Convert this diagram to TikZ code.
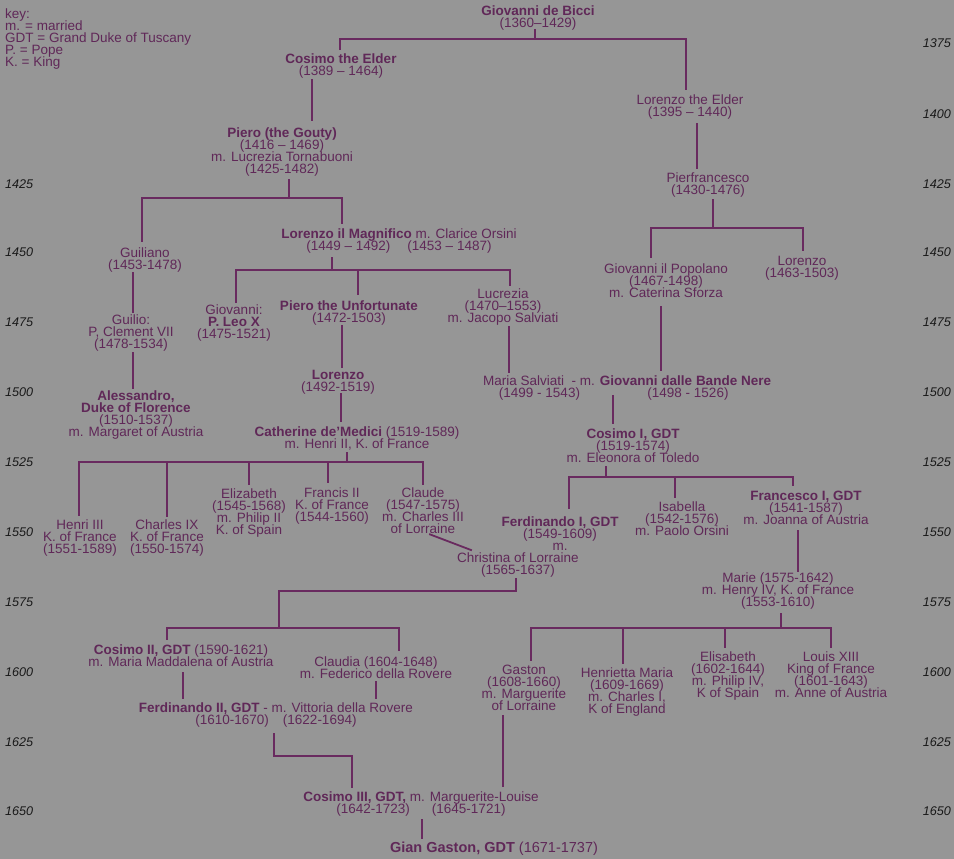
\documentclass[tikz,border=0pt]{standalone}
\usepackage{fontspec}
\setmainfont{Liberation Sans}
\usetikzlibrary{calc}
\definecolor{bgc}{RGB}{150,150,150}
\definecolor{txt}{RGB}{96,40,88}
\definecolor{lnc}{RGB}{105,42,95}
\lineskiplimit=-16000pt
\newcommand\ptx[1]{\rule{0pt}{10pt}#1\rule[-3pt]{0pt}{3pt}}
\newcommand\cdrop[3]{\draw[conn] (#1) -- ($(#1 |- #2.north)+(0,#3)$);}
\newcommand\cstem[3]{\draw[conn] ($(#2.south -| #1)+(0,#3)$) -- (#1);}
\newcommand\clink[5]{\draw[conn] ($(#2.south -| #1)+(0,#3)$) -- ($(#1 |- #4.north)+(0,#5)$);}
\begin{document}
\begin{tikzpicture}[x=1pt,y=-1pt,
  person/.style={text=txt, align=center, inner sep=0pt, anchor=north,
    font=\fontsize{13.5}{12}\selectfont},
  yr/.style={text=black!90, inner sep=0pt, font=\fontsize{12.6}{12}\selectfont\itshape},
  conn/.style={draw=lnc, line width=1.8pt, line cap=rect}]
\fill[bgc] (0,0) rectangle (954,859);
\useasboundingbox (0,0) rectangle (954,859);

% key
\node[person, align=left, anchor=north west] (key) at (5,8) {\ptx{key:\\m. = married\\GDT = Grand Duke of Tuscany\\P. = Pope\\K. = King}};

% years
\foreach \yv/\yy in {1425/184,1450/252,1475/322,1500/392,1525/462,1550/532,1575/602,1600/672,1625/742,1650/811}
  \node[yr, anchor=west] (yl\yv) at (5,\yy) {\yv};
\foreach \yv/\yy in {1375/43,1400/114,1425/184,1450/252,1475/322,1500/392,1525/462,1550/532,1575/602,1600/672,1625/742,1650/811}
  \node[yr, anchor=east] (yr\yv) at (951,\yy) {\yv};

% people
\node[person] (bicci) at (538,5) {\ptx{\textbf{Giovanni de Bicci}\\(1360–1429)}};
\node[person] (cosimoE) at (341,53) {\ptx{\textbf{Cosimo the Elder}\\(1389 – 1464)}};
\node[person] (lorenzoE) at (690,94) {\ptx{Lorenzo the Elder\\(1395 – 1440)}};
\node[person] (piero) at (282,127) {\ptx{\textbf{Piero (the Gouty)}\\(1416 – 1469)\\m. Lucrezia Tornabuoni\\(1425-1482)}};
\node[person] (pierf) at (708,172) {\ptx{Pierfrancesco\\(1430-1476)}};
\node[person] (guiliano) at (145,247) {\ptx{Guiliano\\(1453-1478)}};
\node[person] (lorenzoM) at (399,228) {\ptx{\textbf{Lorenzo il Magnifico} m. Clarice Orsini\\(1449 – 1492)\hspace{17pt}(1453 – 1487)}};
\node[person] (popolano) at (666,263) {\ptx{Giovanni il Popolano\\(1467-1498)\\m. Caterina Sforza}};
\node[person] (lorenzo2) at (802,255) {\ptx{Lorenzo\\(1463-1503)}};
\node[person] (guilio) at (131,314) {\ptx{Guilio:\\P, Clement VII\\(1478-1534)}};
\node[person] (leo) at (234,304) {\ptx{Giovanni:\\\textbf{P. Leo X}\\(1475-1521)}};
\node[person] (pieroU) at (349,300) {\ptx{\textbf{Piero the Unfortunate}\\(1472-1503)}};
\node[person] (lucrezia) at (503,288) {\ptx{Lucrezia\\(1470–1553)\\m. Jacopo Salviati}};
\node[person] (lorenzoU) at (338,369) {\ptx{\textbf{Lorenzo}\\(1492-1519)}};
\node[person, anchor=north west] (maria) at (483,375) {\ptx{Maria Salviati\ \ - m. \textbf{Giovanni dalle Bande Nere}}};
\node[person] (mariaD) at (539.5,387) {\ptx{(1499 - 1543)}};
\node[person] (giovD) at (688,387) {\ptx{(1498 - 1526)}};
\node[person] (alessandro) at (136,390) {\ptx{\textbf{Alessandro,}\\\textbf{Duke of Florence}\\(1510-1537)\\m. Margaret of Austria}};
\node[person] (catherine) at (357,426) {\ptx{\textbf{Catherine de’Medici} (1519-1589)\\m. Henri II, K. of France}};
\node[person] (cosimo1) at (633,428) {\ptx{\textbf{Cosimo I, GDT}\\(1519-1574)\\m. Eleonora of Toledo}};
\node[person] (henri3) at (80,519) {\ptx{Henri III\\K. of France\\(1551-1589)}};
\node[person] (charles9) at (167,519) {\ptx{Charles IX\\K. of France\\(1550-1574)}};
\node[person] (elizabeth) at (249,488) {\ptx{Elizabeth\\(1545-1568)\\m. Philip II\\K. of Spain}};
\node[person] (francis2) at (332,487) {\ptx{Francis II\\K. of France\\(1544-1560)}};
\node[person] (claude) at (423,487) {\ptx{Claude\\(1547-1575)\\m. Charles III\\of Lorraine}};
\node[person] (ferd1) at (560,516) {\ptx{\textbf{Ferdinando I, GDT}\\(1549-1609)\\m.}};
\node[person] (christina) at (518,552) {\ptx{Christina of Lorraine\\(1565-1637)}};
\node[person] (isabella) at (682,501) {\ptx{Isabella\\(1542-1576)\\m. Paolo Orsini}};
\node[person] (francesco) at (806,490) {\ptx{\textbf{Francesco I, GDT}\\(1541-1587)\\m. Joanna of Austria}};
\node[person] (marie) at (778,572) {\ptx{Marie (1575-1642)\\m. Henry IV, K. of France\\(1553-1610)}};
\node[person] (cosimo2) at (181,644) {\ptx{\textbf{Cosimo II, GDT} (1590-1621)\\m. Maria Maddalena of Austria}};
\node[person] (claudia) at (376,656) {\ptx{Claudia (1604-1648)\\m. Federico della Rovere}};
\node[person] (gaston) at (524,664) {\ptx{Gaston\\(1608-1660)\\m. Marguerite\\of Lorraine}};
\node[person] (henrietta) at (627,667) {\ptx{Henrietta Maria\\(1609-1669)\\m. Charles I,\\K of England}};
\node[person] (elisabeth) at (728,651) {\ptx{Elisabeth\\(1602-1644)\\m. Philip IV,\\K of Spain}};
\node[person] (louis) at (831,651) {\ptx{Louis XIII\\King of France\\(1601-1643)\\m. Anne of Austria}};
\node[person] (ferd2) at (276,702) {\ptx{\textbf{Ferdinando II, GDT} - m. Vittoria della Rovere\\(1610-1670)\hspace{14pt}(1622-1694)}};
\node[person] (cosimo3) at (421,791) {\ptx{\textbf{Cosimo III, GDT,} m. Marguerite-Louise\\(1642-1723)\hspace{22pt}(1645-1721)}};
\node[person, font=\fontsize{14.5}{13}\selectfont] (gian) at (494,841.5) {\ptx{\textbf{Gian Gaston, GDT} (1671-1737)}};

% junction coordinates
\coordinate (jb) at (535,39);  \coordinate (jbL) at (340,39); \coordinate (jbR) at (686,39);
\coordinate (jp) at (289,198); \coordinate (jpL) at (142,198); \coordinate (jpR) at (342,198);
\coordinate (jf) at (713,228); \coordinate (jfL) at (651,228); \coordinate (jfR) at (803,228);
\coordinate (jm) at (332,270); \coordinate (jmL) at (236,270); \coordinate (jmC) at (358,270); \coordinate (jmR) at (510,270);
\coordinate (jc) at (347,462); \coordinate (jc1) at (79,462); \coordinate (jc2) at (167,462);
\coordinate (jc3) at (249,462); \coordinate (jc4) at (328,462); \coordinate (jc5) at (423,462);
\coordinate (jo) at (606,477); \coordinate (joL) at (569,477); \coordinate (joC) at (675,477); \coordinate (joR) at (793,477);
\coordinate (jx) at (516,591); \coordinate (jxL) at (279,591);
\coordinate (jy) at (279,628); \coordinate (jyL) at (167,628); \coordinate (jyR) at (399,628);
\coordinate (jr) at (781,628); \coordinate (jr1) at (531,628); \coordinate (jr2) at (623,628);
\coordinate (jr3) at (725,628); \coordinate (jr4) at (831,628);
\coordinate (jd) at (274,756); \coordinate (jdR) at (352,756);
\coordinate (v1) at (312,0); \coordinate (v2) at (697,0); \coordinate (v3) at (133,0);
\coordinate (v4) at (342,0); \coordinate (v5) at (341,0); \coordinate (v6) at (509,0);
\coordinate (v7) at (661,0); \coordinate (v8) at (613,0); \coordinate (v9) at (798,0);
\coordinate (v10) at (183,0); \coordinate (v11) at (376,0); \coordinate (v12) at (503,0);
\coordinate (v13) at (422,0);

% Giovanni de Bicci
\cstem{jb}{bicci}{0}
\draw[conn] (jbL) -- (jbR);
\cdrop{jbL}{cosimoE}{-4}
\cdrop{jbR}{lorenzoE}{-5}
\clink{v1}{cosimoE}{2}{piero}{-7}
\clink{v2}{lorenzoE}{4}{pierf}{-4}
% Piero
\cstem{jp}{piero}{3}
\draw[conn] (jpL) -- (jpR);
\cdrop{jpL}{guiliano}{-6}
\cdrop{jpR}{lorenzoM}{-5}
% Pierfrancesco
\cstem{jf}{pierf}{2}
\draw[conn] (jfL) -- (jfR);
\cdrop{jfL}{popolano}{-6}
\cdrop{jfR}{lorenzo2}{-5}
% Guiliano line
\clink{v3}{guiliano}{0}{guilio}{-2}
\clink{v3}{guilio}{1}{alessandro}{-2}
% Lorenzo il Magnifico
\cstem{jm}{lorenzoM}{4}
\draw[conn] (jmL) -- (jmR);
\cdrop{jmL}{leo}{-2}
\cdrop{jmC}{pieroU}{-6}
\cdrop{jmR}{lucrezia}{-3}
\clink{v4}{pieroU}{0}{lorenzoU}{-2}
\clink{v5}{lorenzoU}{-1}{catherine}{-5}
\clink{v6}{lucrezia}{1}{maria}{-3}
\clink{v7}{popolano}{6}{maria}{-5}
\clink{v8}{maria}{7}{cosimo1}{-5}
% Catherine
\cstem{jc}{catherine}{1}
\draw[conn] (jc1) -- (jc5);
\cdrop{jc1}{henri3}{-4}
\cdrop{jc2}{charles9}{-3}
\cdrop{jc3}{elizabeth}{-4}
\cdrop{jc4}{francis2}{-5}
\cdrop{jc5}{claude}{-3}
\draw[conn] ($(claude.south)+(7,-2)$) -- ($(christina.north)+(-47,-2)$);
% Cosimo I
\cstem{jo}{cosimo1}{1}
\draw[conn] (joL) -- (joR);
\cdrop{joL}{ferd1}{-8}
\cdrop{joC}{isabella}{-4}
\cdrop{joR}{francesco}{-5}
\clink{v9}{francesco}{3}{marie}{-1}
% Christina / Ferdinando I
\cstem{jx}{christina}{1}
\draw[conn] (jx) -- (jxL) -- (jy);
\draw[conn] (jyL) -- (jyR);
\cdrop{jyL}{cosimo2}{-5}
\cdrop{jyR}{claudia}{-6}
% Marie
\cstem{jr}{marie}{4}
\draw[conn] (jr1) -- (jr4);
\cdrop{jr1}{gaston}{-4}
\cdrop{jr2}{henrietta}{-4}
\cdrop{jr3}{elisabeth}{-4}
\cdrop{jr4}{louis}{-4}
% Ferdinando II
\clink{v10}{cosimo2}{3}{ferd2}{-4}
\clink{v11}{claudia}{0}{ferd2}{-4}
\cstem{jd}{ferd2}{6}
\draw[conn] (jd) -- (jdR);
\cdrop{jdR}{cosimo3}{-4}
\clink{v12}{gaston}{2}{cosimo3}{-5}
\clink{v13}{cosimo3}{3}{gian}{-3}
\end{tikzpicture}
\end{document}
